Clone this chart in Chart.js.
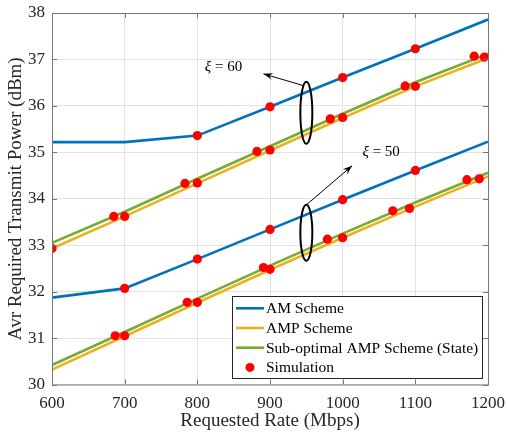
<!DOCTYPE html>
<html>
<head>
<meta charset="UTF-8">
<title>Transmit power</title>
<script src="https://cdn.jsdelivr.net/npm/chart.js@4/dist/chart.umd.min.js"></script>
<style>
  body { margin: 0; background: #fff; }
  canvas { display: block; }
</style>
</head>
<body>
<canvas id="power_chart" width="507" height="432"></canvas>
<script>
// curve data (dBm) sampled every 100 Mbps
const rates = [600, 700, 800, 900, 1000, 1100, 1200];
const amHigh  = [35.22, 35.22, 35.36, 35.98, 36.61, 37.23, 37.86];
const ampHigh = [32.93, 33.62, 34.33, 35.04, 35.74, 36.42, 37.03];
const subHigh = [33.05, 33.72, 34.43, 35.13, 35.83, 36.51, 37.12];
const amLow   = [31.87, 32.07, 32.70, 33.34, 33.98, 34.61, 35.23];
const ampLow  = [30.32, 31.04, 31.76, 32.47, 33.16, 33.83, 34.48];
const subLow  = [30.42, 31.13, 31.85, 32.56, 33.25, 33.92, 34.56];

// simulation markers
const simRates = [600, 685, 700, 783, 800, 882, 900, 983, 1000, 1086, 1100, 1181, 1195,
                  800, 900, 1000, 1100,
                  700, 800, 900, 1000, 1100,
                  687, 700, 786, 800, 891, 900, 979, 1000, 1069, 1092, 1171, 1188];
const simPower = [32.93, 33.62, 33.62, 34.33, 34.34, 35.02, 35.05, 35.72, 35.75, 36.43, 36.42, 37.07, 37.05,
                  35.36, 35.98, 36.61, 37.23,
                  32.07, 32.70, 33.34, 33.98, 34.61,
                  31.05, 31.05, 31.77, 31.77, 32.52, 32.48, 33.13, 33.16, 33.74, 33.79, 34.41, 34.43];

const legendLabels = ['AM Scheme', 'AMP Scheme', 'Sub-optimal AMP Scheme (State)', 'Simulation'];

const BLUE = '#0072BD', ORANGE = '#EDB120', GREEN = '#77AC30', RED = '#FF0000';
const SERIF = "'Liberation Serif', 'DejaVu Serif', serif";

const pts = (xs, ys) => xs.map((x, i) => ({ x: x, y: ys[i] }));
const lineSet = (ys, color, label) => ({
  label: label, data: pts(rates, ys), borderColor: color, backgroundColor: color,
  borderWidth: 2.6, pointRadius: 0, tension: 0, fill: false
});

// ellipses, arrows and xi labels, anchored in data units
const notes = [
  { cx: 950, cy: 35.85, rx: 6, ry: 31, ax: 303, ay: 85.5, tx: 891, ty: 36.69, lx: 836, ly: 36.83, text: '60' },
  { cx: 950, cy: 33.27, rx: 6, ry: 28, ax: 305, ay: 206, tx: 1013, ty: 34.71, lx: 1053, ly: 35.01, text: '50' }
];

const decor = {
  id: 'decor',
  afterDatasetsDraw(chart) {
    const { ctx, chartArea: a, scales: { x, y } } = chart;
    ctx.save();
    // frame with inward ticks
    ctx.strokeStyle = '#767676';
    ctx.lineWidth = 1;
    ctx.strokeRect(a.left + 0.5, a.top + 0.5, a.right - a.left, a.bottom - a.top);
    ctx.beginPath();
    for (let v = 600; v <= 1200; v += 100) {
      const px = Math.round(x.getPixelForValue(v)) + 0.5;
      ctx.moveTo(px, a.bottom); ctx.lineTo(px, a.bottom - 5);
      ctx.moveTo(px, a.top); ctx.lineTo(px, a.top + 5);
    }
    for (let v = 30; v <= 38; v++) {
      const py = Math.round(y.getPixelForValue(v)) + 0.5;
      ctx.moveTo(a.left, py); ctx.lineTo(a.left + 5, py);
      ctx.moveTo(a.right, py); ctx.lineTo(a.right - 5, py);
    }
    ctx.stroke();

    // annotations
    notes.forEach(n => {
      const cx = x.getPixelForValue(n.cx), cy = y.getPixelForValue(n.cy);
      ctx.strokeStyle = '#000';
      ctx.lineWidth = 2;
      ctx.beginPath();
      ctx.ellipse(cx, cy, n.rx, n.ry, 0, 0, Math.PI * 2);
      ctx.stroke();
      const sx = n.ax, sy = n.ay;
      const ex = x.getPixelForValue(n.tx), ey = y.getPixelForValue(n.ty);
      ctx.lineWidth = 1;
      ctx.beginPath();
      ctx.moveTo(sx, sy); ctx.lineTo(ex, ey);
      ctx.stroke();
      const ang = Math.atan2(ey - sy, ex - sx);
      ctx.fillStyle = '#000';
      ctx.beginPath();
      ctx.moveTo(ex, ey);
      ctx.lineTo(ex - 10 * Math.cos(ang - 0.35), ey - 10 * Math.sin(ang - 0.35));
      ctx.lineTo(ex - 6 * Math.cos(ang), ey - 6 * Math.sin(ang));
      ctx.lineTo(ex - 10 * Math.cos(ang + 0.35), ey - 10 * Math.sin(ang + 0.35));
      ctx.closePath();
      ctx.fill();
      const lx = x.getPixelForValue(n.lx), ly = y.getPixelForValue(n.ly);
      ctx.textBaseline = 'middle';
      ctx.textAlign = 'left';
      ctx.font = 'italic 15px ' + SERIF;
      const w1 = ctx.measureText('\u03BE').width;
      ctx.font = '15px ' + SERIF;
      const rest = ' = ' + n.text;
      const w2 = ctx.measureText(rest).width;
      const left = lx - (w1 + w2) / 2;
      ctx.font = 'italic 15px ' + SERIF;
      ctx.fillText('\u03BE', left, ly);
      ctx.font = '15px ' + SERIF;
      ctx.fillText(rest, left + w1, ly);
    });

    // legend box
    const bx = 232.5, by = 296.5, bw = 250, bh = 82;
    ctx.fillStyle = '#fff';
    ctx.fillRect(bx, by, bw, bh);
    ctx.strokeStyle = '#262626';
    ctx.lineWidth = 1;
    ctx.strokeRect(bx, by, bw, bh);
    const colors = [BLUE, ORANGE, GREEN];
    ctx.font = '15.5px ' + SERIF;
    ctx.textBaseline = 'middle';
    ctx.textAlign = 'left';
    legendLabels.forEach((lab, i) => {
      const ry = 308.3 + i * 19.7;
      if (i < 3) {
        ctx.strokeStyle = colors[i];
        ctx.lineWidth = 2.6;
        ctx.beginPath();
        ctx.moveTo(236, ry); ctx.lineTo(264, ry);
        ctx.stroke();
      } else {
        ctx.fillStyle = RED;
        ctx.beginPath();
        ctx.arc(250, ry, 4.5, 0, Math.PI * 2);
        ctx.fill();
      }
      ctx.fillStyle = '#000';
      ctx.fillText(lab, 266, ry + 1);
    });
    ctx.restore();
  }
};

new Chart(document.getElementById('power_chart').getContext('2d'), {
  type: 'line',
  data: {
    datasets: [
      {
        label: 'Simulation', data: pts(simRates, simPower), showLine: false,
        pointRadius: 4.6, pointHoverRadius: 4.6, pointBackgroundColor: RED,
        pointBorderColor: RED, pointBorderWidth: 0, order: 0
      },
      Object.assign(lineSet(amHigh, BLUE, 'AM Scheme'), { order: 3 }),
      Object.assign(lineSet(ampHigh, ORANGE, 'AMP Scheme'), { order: 2 }),
      Object.assign(lineSet(subHigh, GREEN, 'Sub-optimal AMP Scheme (State)'), { order: 1 }),
      Object.assign(lineSet(amLow, BLUE, 'AM Scheme'), { order: 3 }),
      Object.assign(lineSet(ampLow, ORANGE, 'AMP Scheme'), { order: 2 }),
      Object.assign(lineSet(subLow, GREEN, 'Sub-optimal AMP Scheme (State)'), { order: 1 })
    ]
  },
  options: {
    responsive: false,
    animation: false,
    layout: { padding: { top: 13, right: 19, left: 0, bottom: 0 } },
    plugins: { legend: { display: false }, tooltip: { enabled: false } },
    scales: {
      x: {
        type: 'linear', min: 600, max: 1200,
        ticks: { stepSize: 100, color: '#262626', padding: 9, maxRotation: 0, font: { family: SERIF, size: 17 },
                 callback: v => String(v) },
        grid: { color: '#e3e3e3', drawTicks: false },
        border: { display: false },
        title: { display: true, text: 'Requested Rate (Mbps)', color: '#262626', padding: { top: 3, bottom: 0 }, font: { family: SERIF, size: 19 } },
        afterFit: s => { s.height = 47.5; s.paddingLeft = 0; s.paddingRight = 0; }
      },
      y: {
        min: 30, max: 38,
        ticks: { stepSize: 1, color: '#262626', padding: 7, font: { family: SERIF, size: 17 } },
        grid: { color: '#e3e3e3', drawTicks: false },
        border: { display: false },
        title: { display: true, text: 'Avr Required Transmit Power (dBm)', color: '#262626', padding: { top: 5, bottom: 0 }, font: { family: SERIF, size: 19 } },
        afterFit: s => { s.width = 52; s.paddingTop = 0; s.paddingBottom = 0; }
      }
    }
  },
  plugins: [decor]
});
</script>
</body>
</html>
